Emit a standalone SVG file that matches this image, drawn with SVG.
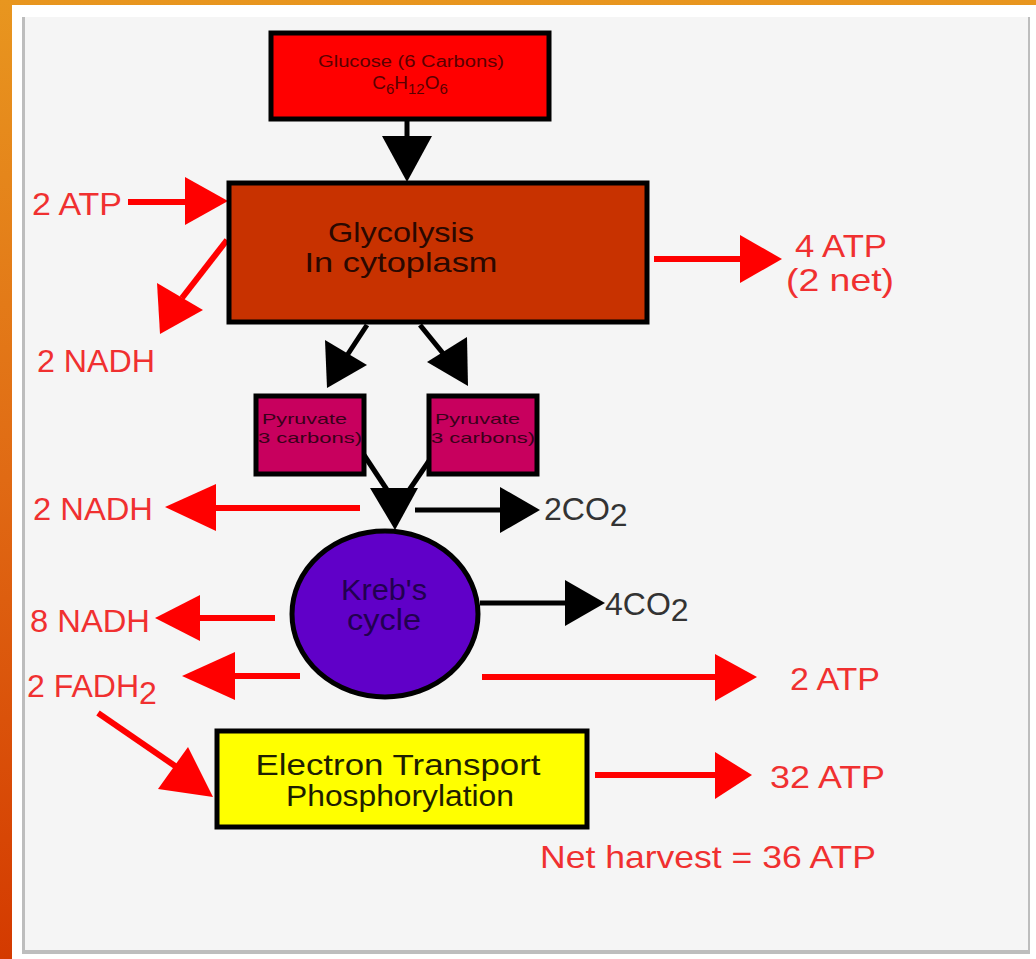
<svg xmlns="http://www.w3.org/2000/svg" width="1036" height="959" viewBox="0 0 1036 959">
<defs>
<linearGradient id="bg" x1="0" y1="0" x2="0" y2="1">
<stop offset="0" stop-color="#e8961f"/>
<stop offset="0.5" stop-color="#e06a14"/>
<stop offset="1" stop-color="#d43a00"/>
</linearGradient>
<style>
.box{stroke:#000;stroke-width:5}
.lbl{font-family:"Liberation Sans",Arial,sans-serif;font-size:32px;fill:#f03030}
.inner{font-family:"Liberation Sans",Arial,sans-serif;text-anchor:middle}
.pyr{font-family:"Liberation Sans",Arial,sans-serif;font-size:15px;fill:#3a001a}
.rl{stroke:#ff0000;stroke-width:6;fill:none}
.ra{fill:#ff0000}
.bl{stroke:#000;stroke-width:5;fill:none}
.ba{fill:#000}
.co{font-family:"Liberation Sans",Arial,sans-serif;font-size:32px;fill:#333}
</style>
</defs>
<rect x="0" y="0" width="1036" height="959" fill="url(#bg)"/>
<rect x="12" y="5" width="1024" height="954" fill="#ffffff"/>
<rect x="22" y="17" width="1008" height="937" fill="#bdbdbd"/>
<rect x="25" y="17" width="1003" height="933" fill="#f5f5f5"/>

<g id="connectors">
<!-- glucose to glycolysis -->
<line class="bl" x1="407" y1="120" x2="407" y2="140"/>
<polygon class="ba" points="382,136 432,136 407,182"/>
<!-- 2 ATP in -->
<line class="rl" x1="128" y1="202" x2="190" y2="202" stroke-width="4"/>
<polygon class="ra" points="185,177 185,225 228,201"/>
<!-- 2 NADH out -->
<line class="rl" x1="227" y1="240" x2="182" y2="298" stroke-width="5"/>
<polygon class="ra" points="157,283 203,310 160,334"/>
<!-- 4 ATP out -->
<line class="rl" x1="654" y1="259" x2="745" y2="259"/>
<polygon class="ra" points="740,235 740,283 782,259"/>
<!-- to pyruvates -->
<line class="bl" x1="367" y1="325" x2="346" y2="357"/>
<polygon class="ba" points="325,340 367,365 327,388"/>
<line class="bl" x1="420" y1="325" x2="446" y2="357"/>
<polygon class="ba" points="467,337 427,362 468,386"/>
<!-- pyruvates to krebs -->
<line class="bl" x1="364" y1="455" x2="397" y2="505"/>
<line class="bl" x1="433" y1="455" x2="399" y2="505"/>
<polygon class="ba" points="370,488 418,488 395,530"/>
<!-- 2CO2 -->
<line class="bl" x1="415" y1="510" x2="505" y2="510"/>
<polygon class="ba" points="500,487 500,533 540,510"/>
<!-- 2 NADH out (second) -->
<line class="rl" x1="360" y1="508" x2="210" y2="508" stroke-width="5"/>
<polygon class="ra" points="216,484 216,531 165,507"/>
<!-- 4CO2 -->
<line class="bl" x1="480" y1="603" x2="570" y2="603"/>
<polygon class="ba" points="565,580 565,626 605,603"/>
<!-- 8 NADH -->
<line class="rl" x1="275" y1="618" x2="195" y2="618"/>
<polygon class="ra" points="200,595 200,641 155,618"/>
<!-- 2 FADH2 -->
<line class="rl" x1="300" y1="676" x2="230" y2="676"/>
<polygon class="ra" points="235,652 235,700 182,676"/>
<!-- 2 ATP from krebs -->
<line class="rl" x1="482" y1="677" x2="720" y2="677" stroke-width="8"/>
<polygon class="ra" points="715,654 715,701 757,677"/>
<!-- FADH2 to ETP -->
<line class="rl" x1="98" y1="713" x2="178" y2="768" stroke-width="5"/>
<polygon class="ra" points="188,747 158,789 213,797"/>
<!-- 32 ATP -->
<line class="rl" x1="595" y1="775" x2="720" y2="775" stroke-width="8"/>
<polygon class="ra" points="715,752 715,799 752,775"/>
</g>

<g id="glucose">
<rect class="box" x="271" y="33" width="278" height="86" fill="#ff0000"/>
<text class="inner" x="411" y="67" font-size="16" fill="#5a0000" textLength="186" lengthAdjust="spacingAndGlyphs">Glucose (6 Carbons)</text>
<text class="inner" x="410" y="89" font-size="19" fill="#5a0000">C<tspan font-size="15" dy="5">6</tspan><tspan dy="-5">H</tspan><tspan font-size="15" dy="5">12</tspan><tspan dy="-5">O</tspan><tspan font-size="15" dy="5">6</tspan></text>
</g>

<g id="glycolysis">
<rect class="box" x="229" y="183" width="418" height="139" fill="#c83200"/>
<text class="inner" x="401" y="242" font-size="28" fill="#2a0800" textLength="146" lengthAdjust="spacingAndGlyphs">Glycolysis</text>
<text class="inner" x="401" y="272" font-size="28" fill="#2a0800" textLength="193" lengthAdjust="spacingAndGlyphs">In cytoplasm</text>
</g>

<g id="pyruvate1">
<rect class="box" x="256" y="396" width="108" height="78" fill="#c8005e"/>
<text class="pyr" x="262" y="424" textLength="85" lengthAdjust="spacingAndGlyphs">Pyruvate</text>
<text class="pyr" x="258" y="443" textLength="104" lengthAdjust="spacingAndGlyphs">3 carbons)</text>
</g>

<g id="pyruvate2">
<rect class="box" x="429" y="396" width="108" height="78" fill="#c8005e"/>
<text class="pyr" x="435" y="424" textLength="85" lengthAdjust="spacingAndGlyphs">Pyruvate</text>
<text class="pyr" x="431" y="443" textLength="104" lengthAdjust="spacingAndGlyphs">3 carbons)</text>
</g>

<g id="krebs">
<ellipse class="box" cx="385" cy="614" rx="93" ry="83" fill="#6000c8"/>
<text class="inner" x="384" y="600" font-size="30" fill="#220050" textLength="86" lengthAdjust="spacingAndGlyphs">Kreb's</text>
<text class="inner" x="384" y="630" font-size="30" fill="#220050" textLength="74" lengthAdjust="spacingAndGlyphs">cycle</text>
</g>

<g id="etp">
<rect class="box" x="217" y="731" width="370" height="96" fill="#ffff00"/>
<text class="inner" x="398" y="775" font-size="29" fill="#1e1e00" textLength="285" lengthAdjust="spacingAndGlyphs">Electron Transport</text>
<text class="inner" x="400" y="806" font-size="29" fill="#1e1e00" textLength="228" lengthAdjust="spacingAndGlyphs">Phosphorylation</text>
</g>

<g id="labels">
<text class="lbl" x="32" y="215" textLength="90" lengthAdjust="spacingAndGlyphs">2 ATP</text>
<text class="lbl" x="37" y="372" textLength="118" lengthAdjust="spacingAndGlyphs">2 NADH</text>
<text class="lbl" x="795" y="257" font-size="26" textLength="92" lengthAdjust="spacingAndGlyphs">4 ATP</text>
<text class="lbl" x="786" y="291" font-size="26" textLength="108" lengthAdjust="spacingAndGlyphs">(2 net)</text>
<text class="lbl" x="33" y="520" textLength="120" lengthAdjust="spacingAndGlyphs">2 NADH</text>
<text class="co" x="544" y="520">2CO<tspan dy="6">2</tspan></text>
<text class="lbl" x="30" y="632" textLength="120" lengthAdjust="spacingAndGlyphs">8 NADH</text>
<text class="co" x="605" y="615">4CO<tspan dy="6">2</tspan></text>
<text class="lbl" x="27" y="697">2 FADH<tspan dy="7">2</tspan></text>
<text class="lbl" x="790" y="690" textLength="90" lengthAdjust="spacingAndGlyphs">2 ATP</text>
<text class="lbl" x="770" y="788" textLength="115" lengthAdjust="spacingAndGlyphs">32 ATP</text>
<text class="lbl" x="540" y="868" textLength="336" lengthAdjust="spacingAndGlyphs">Net harvest = 36 ATP</text>
</g>
</svg>
